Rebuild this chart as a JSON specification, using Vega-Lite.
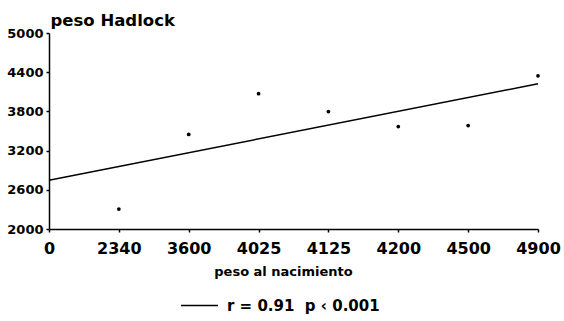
{
  "$schema": "https://vega.github.io/schema/vega-lite/v6.json",
  "width": 489,
  "height": 196,
  "autosize": "none",
  "padding": {"left": 49, "top": 33, "right": 26, "bottom": 92},
  "background": "white",
  "config": {
    "view": {"stroke": null},
    "font": "DejaVu Sans",
    "axis": {"grid": false, "domainColor": "black", "domainWidth": 1.5, "tickColor": "black", "tickWidth": 1.5, "labelColor": "black", "titleColor": "black", "labelFontWeight": "bold", "titleFontWeight": "bold"}
  },
  "datasets": {
    "pts": [
      {"peso": "2340", "hadlock": 2305},
      {"peso": "3600", "hadlock": 3447},
      {"peso": "4025", "hadlock": 4071},
      {"peso": "4125", "hadlock": 3797},
      {"peso": "4200", "hadlock": 3568},
      {"peso": "4500", "hadlock": 3584},
      {"peso": "4900", "hadlock": 4345}
    ],
    "fit": [
      {"peso": "0", "hadlock": 2746, "serie": "r = 0.91\u00a0\u00a0p ‹ 0.001"},
      {"peso": "4900", "hadlock": 4223, "serie": "r = 0.91\u00a0\u00a0p ‹ 0.001"}
    ]
  },
  "encoding": {
    "x": {
      "field": "peso", "type": "ordinal",
      "scale": {"type": "point", "padding": 0, "domain": ["0", "2340", "3600", "4025", "4125", "4200", "4500", "4900"]},
      "axis": {"title": "peso al nacimiento", "labelAngle": 0, "labelFontSize": 16, "tickSize": 3, "labelPadding": 8, "titleFontSize": 13, "titleX": 234, "titleY": 46, "titleBaseline": "alphabetic", "titleAlign": "center"}
    },
    "y": {
      "field": "hadlock", "type": "quantitative",
      "scale": {"domain": [2000, 5000], "nice": false, "zero": false},
      "axis": {"title": "peso Hadlock", "format": "d", "values": [2000, 2600, 3200, 3800, 4400, 5000], "labelFontSize": 13, "tickSize": 3, "labelPadding": 3, "titleFontSize": 16.5, "titleAngle": 0, "titleAlign": "left", "titleBaseline": "alphabetic", "titleX": 1, "titleY": -8}
    }
  },
  "layer": [
    {
      "data": {"name": "fit"},
      "mark": {"type": "line", "strokeWidth": 1.5},
      "encoding": {
        "color": {"field": "serie", "type": "nominal", "scale": {"range": ["black"]},
          "legend": {"title": null, "orient": "none", "legendX": 131, "legendY": 253, "symbolType": "stroke", "symbolSize": 1369, "symbolStrokeWidth": 1.5, "labelFontSize": 15, "labelFontWeight": "bold", "labelColor": "black", "labelOffset": 8, "padding": 0}
        }
      }
    },
    {
      "data": {"name": "pts"},
      "mark": {"type": "point", "filled": true, "color": "black", "size": 14, "opacity": 1}
    }
  ]
}
